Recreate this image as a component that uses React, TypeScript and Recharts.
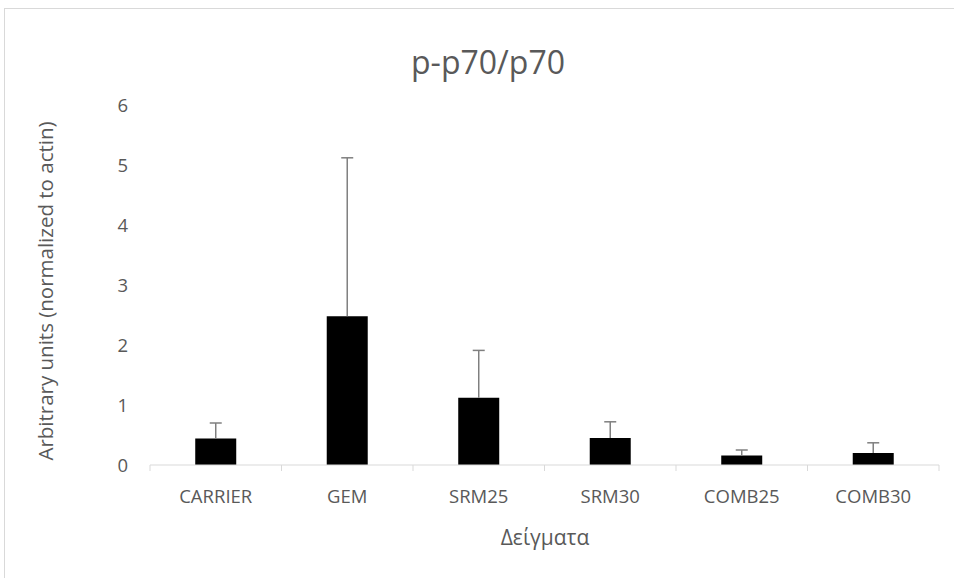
import { Bar, BarChart, XAxis, YAxis } from "recharts"

const categories = ["CARRIER", "GEM", "SRM25", "SRM30", "COMB25", "COMB30"]
const means = [0.44, 2.48, 1.12, 0.45, 0.16, 0.2]
const errors = [0.26, 2.64, 0.79, 0.27, 0.09, 0.17]
const yTicks = [0, 1, 2, 3, 4, 5, 6]

const data = categories.map((name, i) => ({ name, mean: means[i], err: errors[i] }))

const FONT = "'Open Sans', sans-serif"
const TEXT = "#595959"
const AXIS = "#d9d9d9"

// upper-only error bar drawn on the stacked "err" segment
function ErrorShape(props: any) {
  const { x, y, width, height } = props
  const cx = x + width / 2
  return (
    <g stroke="#7f7f7f" strokeWidth={1.5}>
      <line x1={cx} y1={y} x2={cx} y2={y + height} />
      <line x1={cx - 6} y1={y} x2={cx + 6} y2={y} />
    </g>
  )
}

// label plus Excel-style tick marks at the category boundaries
function CategoryTick(props: any) {
  const { x, y, payload, index } = props
  const half = payload.offset ?? 0
  const last = index === categories.length - 1
  return (
    <g>
      <line x1={x - half} y1={y} x2={x - half} y2={y + 6} stroke={AXIS} />
      {last && <line x1={x + half} y1={y} x2={x + half} y2={y + 6} stroke={AXIS} />}
      <text x={x} y={y + 32} dy="0.35em" textAnchor="middle" fill={TEXT} fontSize={18.5} fontFamily={FONT}>
        {payload.value}
      </text>
    </g>
  )
}

export default function App() {
  return (
    <div style={{ position: "fixed", left: 0, top: 0, width: 954, height: 578, overflow: "hidden", background: "#fff" }}>
      <div style={{ position: "absolute", left: 4, top: 8, width: 970, height: 600, border: `1px solid ${AXIS}`, fontFamily: FONT }}>
        <div style={{ position: "absolute", left: 483, top: 52, transform: "translate(-50%, -50%)", fontSize: 32, color: TEXT, whiteSpace: "nowrap" }}>
          p-p70/p70
        </div>
        <div style={{ position: "absolute", left: 540, top: 528, transform: "translate(-50%, -50%)", fontSize: 21, color: TEXT, whiteSpace: "nowrap" }}>
          Δείγματα
        </div>
        <div style={{ position: "absolute", left: 40, top: 282, transform: "translate(-50%, -50%) rotate(-90deg)", fontSize: 20.5, color: TEXT, whiteSpace: "nowrap" }}>
          Arbitrary units (normalized to actin)
        </div>
        <BarChart width={970} height={600} data={data} margin={{ top: 96, right: 36, left: 85, bottom: 84 }} barCategoryGap="34.4%">
          <XAxis dataKey="name" interval={0} height={60} stroke={AXIS} tickLine={false} tickSize={0} tickMargin={0} tick={<CategoryTick />} />
          <YAxis domain={[0, 6]} ticks={yTicks} width={60} axisLine={false} tickLine={false} tickSize={0} tickMargin={22}
            tick={{ fill: TEXT, fontSize: 18.5, fontFamily: FONT }} />
          <Bar dataKey="mean" stackId="a" fill="#000" isAnimationActive={false} />
          <Bar dataKey="err" stackId="a" shape={<ErrorShape />} isAnimationActive={false} />
        </BarChart>
      </div>
    </div>
  )
}
